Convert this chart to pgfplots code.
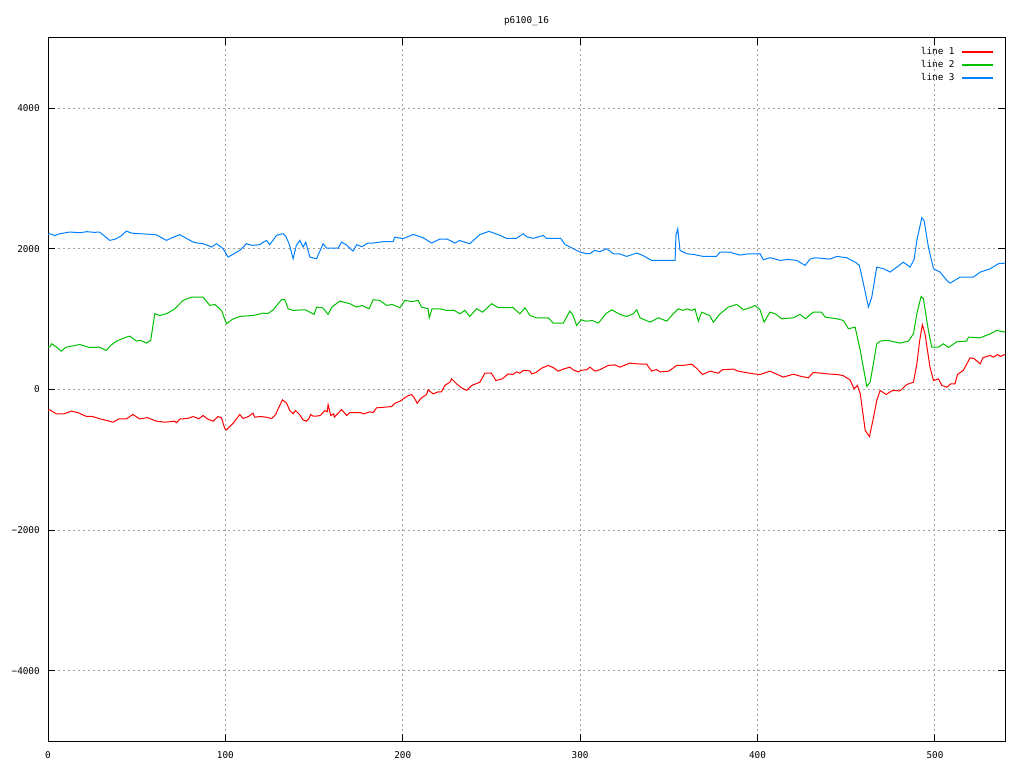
\documentclass[border=0pt]{standalone}
\usepackage{fontspec}
\setmainfont{DejaVu Sans Mono}
\usepackage{pgfplots}
\pgfplotsset{compat=1.18}
\definecolor{gpred}{HTML}{FF0000}
\definecolor{gpgreen}{HTML}{00C000}
\definecolor{gpblue}{HTML}{0080FF}
\definecolor{gpgrid}{HTML}{A0A0A0}
\begin{document}
\begin{tikzpicture}[x=1pt,y=1pt]
\path[use as bounding box] (0,0) rectangle (768,576);
\begin{axis}[
 at={(36pt,20.25pt)}, anchor=south west,
 scale only axis, width=717.75pt, height=527.25pt,
 xmin=0, xmax=539.5, ymin=-5000, ymax=5000,
 xtick={0,100,...,500}, ytick={-4000,-2000,0,2000,4000},
 yticklabels={−4000,−2000,0,2000,4000},
 grid=major,
 major grid style={gpgrid, dash pattern=on 1.5pt off 2.25pt, line width=0.75pt},
 axis line style={black, line width=0.75pt},
 tick align=inside, tick pos=both, major tick length=5pt,
 every tick/.style={black, line width=0.75pt},
 tick label style={font=\fontsize{7}{8}\selectfont},
 /pgf/number format/assume math mode=true,
 /pgf/number format/1000 sep={},
 xticklabel style={anchor=center, yshift=-10.5pt},
 yticklabel style={anchor=east, inner sep=0pt, xshift=-6pt},
 scaled ticks=false,
 title={p6100\_16},
 title style={font=\fontsize{7}{8}\selectfont, at={(0.5,1)}, anchor=center, yshift=6.75pt},
 legend style={draw=none, fill=none, font=\fontsize{7}{8}\selectfont,
   at={(1,1)}, anchor=north east, xshift=-8.25pt, yshift=-6.8pt,
   inner sep=0pt, column sep=5.25pt, row sep=2.75pt,
   nodes={inner sep=0pt, text height=5.5pt, text depth=1.5pt}},
 legend cell align=right, legend plot pos=right,
 legend image code/.code={\draw[#1, line width=0.85pt] (0pt,0pt) -- (23.25pt,0pt);},
 every axis plot/.append style={line width=0.75pt, mark=none},
]
\addplot[gpred] coordinates {
(0,-300) (1,-289) (3,-320) (4.7,-346) (9,-346) (13.2,-308) (17,-330) (21.7,-384) (25,-384) (29.2,-417) (33,-440) (36.7,-465) (40,-417) (44.2,-417) (47.9,-356) (51.7,-420) (56,-400) (61.1,-451) (66,-465) (71.5,-451) (72.4,-474) (74.3,-420) (79,-410) (81.8,-384) (85,-417) (87.4,-370) (90,-420) (93.1,-451) (95.9,-384) (97.8,-403) (99.7,-560) (100.6,-574) (104.4,-479) (108.1,-356) (110,-413) (113,-384) (115.6,-337) (116.5,-394) (120,-384) (123,-394) (126,-413) (128.4,-356) (129.7,-275) (132.2,-147) (134.5,-195) (136.3,-299) (138.2,-346) (139.5,-299) (141.8,-356) (143.8,-432) (145.7,-451) (147,-417) (148.1,-356) (149.5,-380) (150.9,-380) (153.5,-370) (156.1,-299) (157.4,-318) (157.9,-214) (159.4,-370) (161,-346) (161.4,-394) (165.5,-285) (168.3,-370) (170.2,-328) (174,-328) (175.8,-328) (178,-346) (181.4,-318) (183.3,-328) (185.2,-261) (193.7,-243) (195.6,-195) (198.4,-167) (200.3,-133) (202.1,-100) (205,-71) (206.5,-120) (208.1,-195) (210.5,-120) (213.4,-71) (214.3,-5) (217.1,-62) (220,-33) (221.8,-33) (223.7,57) (226.6,104) (227.5,152) (230.3,81) (233.1,24) (236,-14) (238.8,57) (243.5,104) (246.3,232) (250,232) (252.5,128) (256,150) (259.4,222) (262,213) (264.1,251) (266,232) (267.9,270) (271.7,265) (272.6,223) (275,240) (278.3,303) (282,342) (285,310) (287.6,261) (290.5,290) (294.2,318) (296,280) (298.9,251) (301,275) (303.7,280) (305.5,318) (308.3,261) (311,280) (315.8,342) (319.5,350) (322.4,318) (328,375) (331.9,365) (337.5,360) (340.3,261) (343,285) (345,250) (350,261) (354.4,342) (358,342) (362.9,360) (365.7,300) (369,213) (373.2,261) (377.9,232) (380,280) (386.4,290) (389,261) (397.6,223) (401.4,213) (407,261) (414.5,176) (420.2,218) (424,190) (428.6,166) (431.4,242) (436,232) (439,223) (444.7,213) (448,200) (452.1,138) (454.4,10) (456.3,57) (457.9,-62) (460.7,-584) (463.1,-669) (465.4,-394) (467.2,-157) (469.1,-14) (472.5,-71) (476,-14) (480.3,-20) (484.1,71) (487.9,104) (489.8,365) (491.4,697) (492.9,921) (494.4,792) (497.2,318) (499.2,128) (502,150) (503.9,57) (506.7,33) (509,81) (511.3,81) (512.7,213) (516.1,275) (519.8,451) (522,440) (525.5,365) (527,451) (531.1,484) (533,460) (535.3,498) (537,470) (539.6,500)
};
\addlegendentry{line 1}
\addplot[gpgreen] coordinates {
(0,600) (1,602) (2,650) (5,600) (7.5,545) (10,600) (14,620) (17.9,640) (23.5,597) (29,602) (32.9,555) (35,620) (38.6,688) (44.2,745) (46.1,760) (49.8,688) (52,700) (55.5,660) (57.9,700) (60.2,1077) (63,1053) (67,1080) (71.5,1148) (76.1,1267) (80.9,1314) (87.4,1314) (91.2,1196) (94,1210) (97.8,1125) (100.6,935) (104,1000) (108.1,1039) (115.6,1053) (121.3,1086) (124,1080) (127,1134) (131.6,1277) (133.5,1277) (135.4,1148) (138.2,1125) (145,1134) (150,1068) (151.4,1172) (155,1160) (157.9,1068) (160,1172) (164.5,1257) (170.2,1220) (173.9,1172) (177,1196) (181,1148) (183.3,1277) (187,1267) (190.9,1196) (194,1210) (198.4,1163) (201.2,1267) (205,1250) (208.7,1267) (210.6,1172) (214.3,1148) (214.9,1020) (216.5,1148) (220.9,1148) (224.7,1125) (229,1125) (232.2,1077) (235,1125) (237.8,1039) (241.6,1148) (245,1100) (250.1,1220) (254,1163) (262.3,1163) (266,1077) (268.9,1163) (271.7,1053) (275.5,1020) (282,1020) (284.8,944) (290.5,944) (294.2,1115) (296,1053) (298,911) (300.6,992) (303,972) (307,980) (310.2,944) (314.9,1086) (317.8,1134) (322.4,1068) (326.2,1039) (330,1077) (331.9,1134) (333.7,1020) (339.4,958) (344.1,1020) (348.8,972) (352.5,1077) (355.3,1148) (358,1125) (360,1148) (363,1125) (364.7,1148) (366.6,972) (368.5,1100) (373,1053) (375.1,958) (378.9,1077) (383.5,1172) (388.3,1210) (392,1134) (395.8,1163) (398.6,1196) (401.4,1134) (403.7,958) (407,1100) (410,1077) (413.6,1006) (420.2,1020) (424,1068) (427,1006) (431.4,1100) (436,1100) (438.1,1030) (444.7,1006) (448.4,982) (451.2,864) (455,887) (457.9,555) (461.6,43) (463.5,104) (467.2,650) (469.1,688) (473,700) (480.3,660) (485,688) (487.9,792) (489.8,1077) (492.2,1324) (493.5,1290) (496.3,840) (498.2,602) (502,602) (504.8,650) (507.6,597) (512.3,678) (517.9,688) (518.9,745) (525.5,735) (531.1,792) (534.8,840) (539.6,816)
};
\addlegendentry{line 2}
\addplot[gpblue] coordinates {
(0,2200) (1,2216) (4,2190) (6.6,2216) (10,2230) (12.2,2240) (18,2230) (22,2245) (26,2235) (29,2240) (32,2180) (34.8,2121) (38,2140) (41,2180) (44.2,2253) (47,2225) (51.7,2216) (56,2210) (61.1,2200) (64,2160) (66.8,2121) (70,2160) (74.3,2202) (78,2150) (81.8,2097) (84,2085) (87.4,2074) (90,2050) (92.2,2026) (95,2074) (98.7,2003) (101.5,1883) (104,1920) (108.1,1979) (111.9,2074) (115,2050) (119.4,2060) (121,2090) (123.2,2121) (125,2060) (128.8,2192) (132.5,2216) (134,2180) (135.9,2074) (138.2,1860) (140,2050) (142,2121) (143.8,2026) (145.3,2097) (147.6,1883) (151.4,1860) (155.1,2074) (157,2012) (163.6,2012) (165.5,2097) (168,2060) (172,1969) (174,2060) (177,2030) (180,2080) (183.3,2083) (189,2103) (194.5,2103) (195.5,2168) (200.2,2145) (205.9,2206) (211.5,2159) (216.2,2083) (220.9,2140) (225,2140) (229.4,2083) (232,2120) (237.8,2074) (243.5,2206) (248.7,2249) (254.8,2192) (258.5,2150) (264,2150) (267.9,2216) (270,2170) (273.6,2150) (279.2,2192) (281,2150) (289,2150) (291.4,2064) (296.1,2003) (299.9,1955) (303.7,1931) (305.5,1931) (308.1,1979) (311,1960) (314.9,2003) (318.7,1931) (322,1930) (326.2,1893) (331.9,1941) (335,1910) (340.3,1836) (353.5,1836) (354,2192) (355,2288) (356.3,1979) (360.1,1931) (364,1920) (369.4,1893) (372.3,1893) (376.8,1893) (378.9,1955) (384,1955) (390.1,1912) (395,1930) (401.4,1931) (403.3,1846) (407,1874) (412.9,1836) (417,1850) (422.1,1836) (426.8,1765) (429.6,1855) (432.4,1874) (440.8,1855) (444.7,1893) (450.3,1874) (455,1812) (457.4,1765) (459.7,1504) (462.5,1172) (464.4,1314) (467.2,1741) (471,1717) (474.7,1670) (478.5,1741) (482.2,1812) (486,1741) (488.3,1855) (489.8,2121) (492.6,2444) (493.9,2402) (496.3,2026) (499.2,1717) (502.9,1670) (506.7,1552) (508.5,1513) (514.2,1599) (521.7,1599) (525.5,1670) (531.1,1717) (535.8,1789) (539.6,1798)
};
\addlegendentry{line 3}
\end{axis}
\end{tikzpicture}
\end{document}
